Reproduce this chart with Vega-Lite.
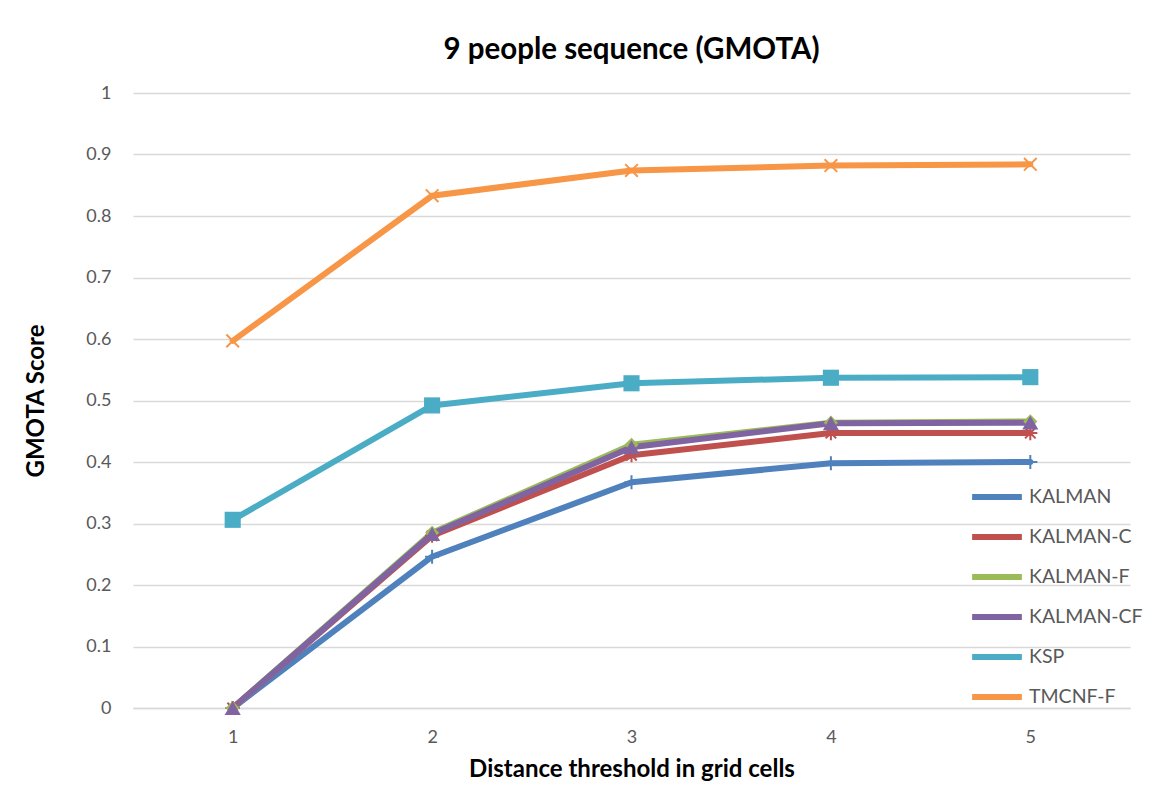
{
  "$schema": "https://vega.github.io/schema/vega-lite/v6.json",
  "width": 997,
  "height": 615,
  "autosize": {"type": "none"},
  "padding": {"left": 133, "top": 93, "right": 25, "bottom": 85},
  "background": "white",
  "title": {
    "text": "9 people sequence (GMOTA)",
    "font": "Lato",
    "fontSize": 29.5,
    "fontWeight": "bold",
    "color": "#000000",
    "anchor": "middle",
    "offset": 19
  },
  "data": {
    "values": [
      {"threshold": 1, "series": "KALMAN", "score": 0},
      {"threshold": 2, "series": "KALMAN", "score": 0.246},
      {"threshold": 3, "series": "KALMAN", "score": 0.367},
      {"threshold": 4, "series": "KALMAN", "score": 0.398},
      {"threshold": 5, "series": "KALMAN", "score": 0.400},
      {"threshold": 1, "series": "KALMAN-C", "score": 0},
      {"threshold": 2, "series": "KALMAN-C", "score": 0.280},
      {"threshold": 3, "series": "KALMAN-C", "score": 0.411},
      {"threshold": 4, "series": "KALMAN-C", "score": 0.447},
      {"threshold": 5, "series": "KALMAN-C", "score": 0.447},
      {"threshold": 1, "series": "KALMAN-F", "score": 0},
      {"threshold": 2, "series": "KALMAN-F", "score": 0.285},
      {"threshold": 3, "series": "KALMAN-F", "score": 0.428},
      {"threshold": 4, "series": "KALMAN-F", "score": 0.464},
      {"threshold": 5, "series": "KALMAN-F", "score": 0.466},
      {"threshold": 1, "series": "KALMAN-CF", "score": 0},
      {"threshold": 2, "series": "KALMAN-CF", "score": 0.283},
      {"threshold": 3, "series": "KALMAN-CF", "score": 0.424},
      {"threshold": 4, "series": "KALMAN-CF", "score": 0.463},
      {"threshold": 5, "series": "KALMAN-CF", "score": 0.464},
      {"threshold": 1, "series": "KSP", "score": 0.306},
      {"threshold": 2, "series": "KSP", "score": 0.492},
      {"threshold": 3, "series": "KSP", "score": 0.528},
      {"threshold": 4, "series": "KSP", "score": 0.537},
      {"threshold": 5, "series": "KSP", "score": 0.538},
      {"threshold": 1, "series": "TMCNF-F", "score": 0.597},
      {"threshold": 2, "series": "TMCNF-F", "score": 0.833},
      {"threshold": 3, "series": "TMCNF-F", "score": 0.874},
      {"threshold": 4, "series": "TMCNF-F", "score": 0.882},
      {"threshold": 5, "series": "TMCNF-F", "score": 0.884}
    ]
  },
  "encoding": {
    "x": {
      "field": "threshold",
      "type": "ordinal",
      "scale": {"type": "point", "padding": 0.5},
      "axis": {
        "title": "Distance threshold in grid cells",
        "labelAngle": 0,
        "labelPadding": 20,
        "titlePadding": 11,
        "ticks": false,
        "domain": true,
        "domainColor": "#d9d9d9",
        "domainWidth": 1.5
      }
    },
    "y": {
      "field": "score",
      "type": "quantitative",
      "scale": {"domain": [0, 1], "nice": false},
      "axis": {
        "title": "GMOTA Score",
        "values": [0, 0.1, 0.2, 0.3, 0.4, 0.5, 0.6, 0.7, 0.8, 0.9, 1],
        "labelExpr": "datum.value === 0 ? '0' : datum.value === 1 ? '1' : format(datum.value, '.1f')",
        "ticks": false,
        "domain": false,
        "grid": true,
        "gridColor": "#d9d9d9",
        "gridWidth": 1.5,
        "labelPadding": 22,
        "titlePadding": 37
      }
    },
    "color": {
      "field": "series",
      "type": "nominal",
      "sort": ["KALMAN", "KALMAN-C", "KALMAN-F", "KALMAN-CF", "KSP", "TMCNF-F"],
      "scale": {
        "domain": ["KALMAN", "KALMAN-C", "KALMAN-F", "KALMAN-CF", "KSP", "TMCNF-F"],
        "range": ["#4f81bd", "#c0504d", "#9bbb59", "#8064a2", "#4bacc6", "#f79646"]
      },
      "legend": {
        "title": null,
        "orient": "none",
        "legendX": 836,
        "legendY": 376,
        "symbolType": "stroke",
        "symbolSize": 2477,
        "symbolStrokeWidth": 6,
        "labelFontSize": 19.5,
        "labelFont": "Lato",
        "labelColor": "#595959",
        "rowPadding": 0,
        "labelOffset": 4
      }
    }
  },
  "layer": [
    {
      "mark": {"type": "line", "strokeWidth": 6, "strokeCap": "round", "strokeJoin": "round"}
    },
    {
      "transform": [{"filter": "datum.series === 'KALMAN'"}],
      "mark": {"type": "point", "filled": false, "strokeWidth": 2, "opacity": 1, "shape": "M-1,0H1M0,-1V1", "size": 200}
    },
    {
      "transform": [{"filter": "datum.series === 'KALMAN-C'"}],
      "mark": {"type": "point", "filled": false, "strokeWidth": 2, "opacity": 1, "shape": "M-1,0H1M0,-1V1M-0.75,-0.75L0.75,0.75M-0.75,0.75L0.75,-0.75", "size": 200}
    },
    {
      "transform": [{"filter": "datum.series === 'KALMAN-F'"}],
      "mark": {"type": "point", "filled": true, "opacity": 1, "shape": "diamond", "size": 200}
    },
    {
      "transform": [{"filter": "datum.series === 'KALMAN-CF'"}],
      "mark": {"type": "point", "filled": true, "opacity": 1, "shape": "triangle-up", "size": 260}
    },
    {
      "transform": [{"filter": "datum.series === 'KSP'"}],
      "mark": {"type": "point", "filled": true, "opacity": 1, "shape": "square", "size": 260}
    },
    {
      "transform": [{"filter": "datum.series === 'TMCNF-F'"}],
      "mark": {"type": "point", "filled": false, "strokeWidth": 2, "opacity": 1, "shape": "M-1,-1L1,1M-1,1L1,-1", "size": 160}
    }
  ],
  "config": {
    "view": {"stroke": null},
    "font": "Lato",
    "axis": {
      "labelFont": "Lato",
      "labelFontSize": 18,
      "labelColor": "#595959",
      "titleFont": "Lato",
      "titleFontSize": 24,
      "titleFontWeight": "bold",
      "titleColor": "#000000"
    }
  }
}
